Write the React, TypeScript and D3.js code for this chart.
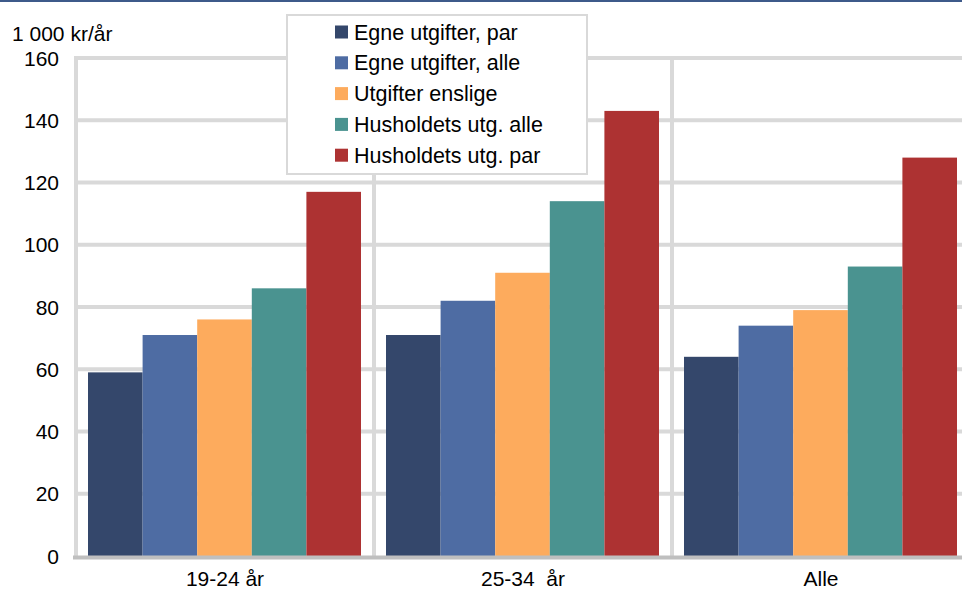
import React from 'react'
import * as d3 from "d3";

const categories = ["19-24 år", "25-34  år", "Alle"]
const seriesNames = [
  "Egne utgifter, par",
  "Egne utgifter, alle",
  "Utgifter enslige",
  "Husholdets utg. alle",
  "Husholdets utg. par",
]
const seriesColors = ["#34476B", "#4E6CA3", "#FDAB5D", "#4A9390", "#AD3232"]
// values per series, one per category
const egnePar = [59, 71, 64]
const egneAlle = [71, 82, 74]
const enslige = [76, 91, 79]
const husAlle = [86, 114, 93]
const husPar = [117, 143, 128]
const yTicks = [0, 20, 40, 60, 80, 100, 120, 140, 160]
const yUnit = "1 000 kr/år"

const seriesValues = [egnePar, egneAlle, enslige, husAlle, husPar]

const width = 962
const height = 590
const font = "'Liberation Sans', Arial, sans-serif"

export default function App() {
  const plotLeft = 76
  const plotRight = 970
  const plotTop = 58
  const plotBottom = 556

  const y = d3.scaleLinear().domain([0, 160]).range([plotBottom, plotTop])
  const x0 = d3.scaleBand<string>().domain(categories).range([plotLeft, plotRight])
  const x1 = d3.scaleBand<string>().domain(seriesNames).range([12, x0.bandwidth() - 13])

  return (
    <svg width={width} height={height}
      style={{ position: "absolute", left: 0, top: 0, background: "#fff" }}
      fontFamily={font}>
      <rect x={0} y={0} width={width} height={2} fill="#3E5A8A" />

      {/* horizontal gridlines */}
      {yTicks.filter(t => t > 0).map(t => (
        <line key={t} x1={plotLeft - 2} x2={width} y1={y(t)} y2={y(t)}
          stroke="#D9D9D9" strokeWidth={4} />
      ))}
      {/* vertical gridlines at category boundaries */}
      {categories.map(c => (
        <line key={c} x1={x0(c)} x2={x0(c)} y1={plotTop - 2} y2={plotBottom}
          stroke="#D9D9D9" strokeWidth={4} />
      ))}

      {/* bars */}
      {categories.map((c, ci) => (
        <g key={c} transform={`translate(${x0(c)},0)`}>
          {seriesNames.map((s, si) => (
            <rect key={s} x={x1(s)} width={x1.bandwidth()}
              y={y(seriesValues[si][ci])}
              height={plotBottom - y(seriesValues[si][ci])}
              fill={seriesColors[si]} />
          ))}
        </g>
      ))}

      {/* x axis line */}
      <line x1={plotLeft - 3} x2={width} y1={plotBottom + 1.5} y2={plotBottom + 1.5}
        stroke="#BFBFBF" strokeWidth={4} />

      {/* y tick labels */}
      {yTicks.map(t => (
        <text key={t} x={59} y={y(t)} dy="0.36em" textAnchor="end"
          fontSize={21} fill="#000">{t}</text>
      ))}
      <text x={12} y={41} fontSize={21} fill="#000">{yUnit}</text>

      {/* x labels */}
      {categories.map(c => (
        <text key={c} x={(x0(c) as number) + x0.bandwidth() / 2}
          y={586} textAnchor="middle" fontSize={21} fill="#000"
          style={{ whiteSpace: "pre" }}>{c}</text>
      ))}

      {/* legend */}
      <g>
        <rect x={287} y={15} width={300} height={159} fill="#fff"
          stroke="#D9D9D9" strokeWidth={2} />
        {seriesNames.map((s, i) => (
          <g key={s} transform={`translate(335,${32 + i * 30.8})`}>
            <rect x={0} y={-6.5} width={13} height={13} fill={seriesColors[i]} />
            <text x={19} y={0} dy="0.35em" fontSize={21.5} fill="#000">{s}</text>
          </g>
        ))}
      </g>
    </svg>
  )
}
